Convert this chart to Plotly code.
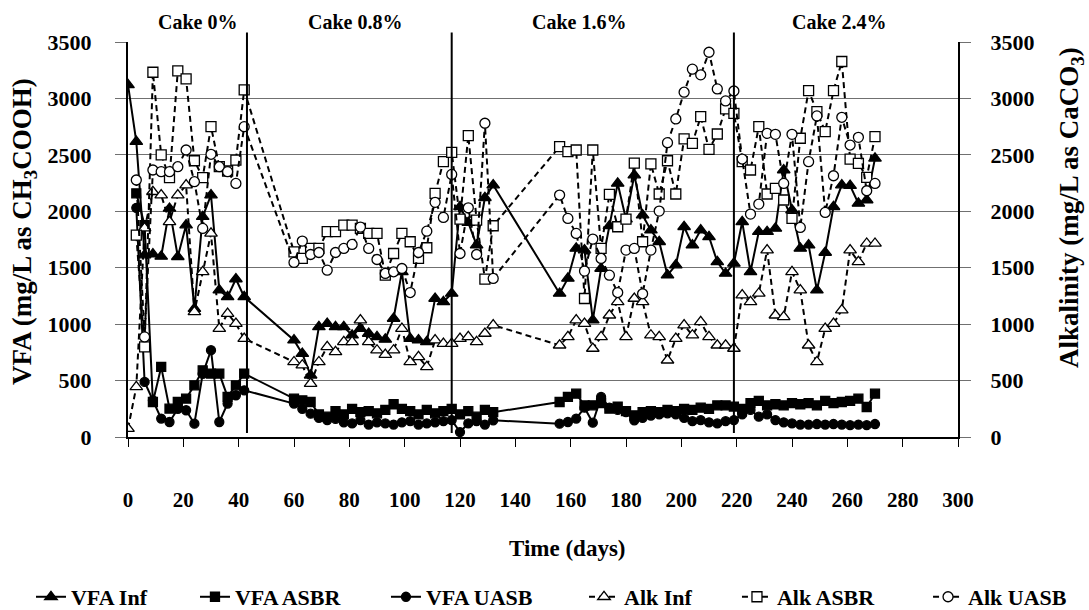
import plotly.graph_objects as go

# ---------------- data ----------------
days = [0, 3, 6, 9, 12, 15, 18, 21, 24, 27, 30, 33, 36, 39, 42,
        60, 63, 66, 69, 72, 75, 78, 81, 84, 87, 90, 93, 96, 99, 102, 105, 108, 111, 114, 117,
        120, 123, 126, 129, 132,
        156, 159, 162, 165, 168, 171, 174, 177, 180, 183, 186, 189, 192, 195, 198, 201, 204,
        207, 210, 213, 216, 219,
        222, 225, 228, 231, 234, 237, 240, 243, 246, 249, 252, 255, 258, 261, 264, 267, 270]

vfa_inf = [3120, 2617, 1612, 1620, 1600, 2025, 1597, 1878, 1138, 1952, 2144, 1301, 1242, 1400, 1242,
           858, 739, 547, 976, 1005, 976, 976, 902, 961, 917, 887, 865, 1050, 1464, 872, 858, 843, 1227, 1198, 1272,
           2040, 1900, 1700, 2120, 2232,
           1272, 1405, 1671, 1656, 1035, 1493, 1870, 2247, 1930, 2321, 1966, 1833, 1730, 1434, 1523, 1863, 1700,
           1833, 1774, 1552, 1449, 1538,
           1907, 1464, 1819, 1819, 1848, 2366, 2011, 1671, 1700, 1301, 1635, 2040, 2232, 2227, 2070, 2100, 2469]

vfa_asbr = [None, 2159, 1878, 310, 621, 251, 310, 340, 458, 591, 562, 562, 355, 458, 562,
            340, 325, 310, 200, 180, 230, 200, 250, 220, 230, 210, 240, 290, 250, 230, 200, 240, 210, 230, 250,
            200, 230, 180, 240, 220,
            310, 355, 384, 280, 281, 300, 251, 270, 230, 192, 220, 230, 220, 240, 230, 250, 240,
            260, 250, 280, 280, 270,
            250, 300, 320, 280, 290, 280, 300, 290, 300, 280, 320, 300, 310, 320, 340, 266, 384]

vfa_uasb = [None, 2031, 488, 325, 163, 133, 250, 237, 118, 560, 769, 133, 296, 370, 414,
            296, 250, 207, 170, 150, 160, 130, 120, 150, 110, 130, 120, 110, 130, 140, 110, 120, 130, 140, 150,
            44, 120, 140, 110, 148,
            118, 133, 163, 260, 127, 355, 260, 240, 220, 148, 170, 190, 200, 210, 200, 170, 140,
            150, 130, 120, 140, 150,
            200, 240, 180, 200, 150, 130, 120, 110, 110, 115, 110, 115, 110, 105, 110, 105, 115]

alk_inf = [74, 444, 1850, 2173, 2144, 1907, 2144, 2232, 1109, 1464, 1804, 961, 1094, 1005, 872,
           665, 636, 473, 665, 798, 754, 843, 843, 1035, 843, 769, 730, 769, 961, 665, 710, 621, 858, 828, 828,
           872, 887, 843, 917, 991,
           813, 887, 1035, 1005, 784, 887, 1079, 1198, 887, 1227, 1198, 902, 887, 680, 872, 991, 902,
           1020, 887, 813, 813, 784,
           1257, 1198, 1272, 1656, 1079, 1065, 1464, 1301, 813, 665, 961, 1005, 1124, 1656, 1552, 1715, 1715]

alk_asbr = [None, 1789, 798, 3232, 2499, 2298, 3244, 3173, 2448, 2298, 2750, 2395, 2357, 2454, 3075,
            1641, 1582, 1671, 1671, 1819, 1819, 1878, 1878, 1848, 1804, 1804, 1434, 1626, 1804, 1730, 1582, 1677,
            2159, 2440, 2522,
            1930, 2670, 1922, 1399, 1872,
            2573, 2528, 2543, 1227, 2543, 1671, 2150, 1863, 1930, 2426, 1730, 2420, 2153, 2448, 2153, 2641, 2602,
            2839, 2549, 2685, 2907, 2868,
            2440, 2366, 2750, 2153, 2203, 2100, 1937, 2647, 3069, 2883, 2706, 3069, 3327, 2463, 2425, 2300, 2661]

alk_uasb = [None, 2277, 887, 2366, 2351, 2351, 2395, 2543, 2262, 1848, 2505, 2395, 2351, 2247, 2750,
            1547, 1736, 1617, 1635, 1478, 1635, 1671, 1706, 1860, 1671, 1573, 1449, 1464, 1493, 1280, 1635, 1824,
            2079, 1946, 2327,
            1626, 2031, 1617, 2780, 1405,
            2144, 1937, 1804, 1470, 1754, 1582, 1434, 1280, 1656, 1671, 1269, 1656, 2002, 2608, 2818, 3055, 3259,
            3209, 3409, 3084, 2978, 3066,
            2463, 1975, 2064, 2691, 2682, 2247, 2682, 1857, 2440, 2845, 1990, 2315, 2833, 2587, 2655, 2182, 2247]

phase_days = [43, 117, 219]
phase_label_days = [25, 82, 163, 257]
phase_labels = ["Cake 0%", "Cake 0.8%", "Cake 1.6%", "Cake 2.4%"]

x_ticks = list(range(0, 301, 20))
y_ticks = list(range(0, 3501, 500))

# ---------------- figure ----------------
SERIF = "Liberation Serif, Times New Roman, serif"
BLACK = "#000000"
DASH = "6px,4px"

fig = go.Figure()

legend_ids = ["legend", "legend2", "legend3", "legend4", "legend5", "legend6"]
legend_x = [-0.1169, 0.0807, 0.3108, 0.5494, 0.7337, 0.9639]

def add(idx, name, y, symbol, filled, dash, axis, size):
    fig.add_trace(go.Scatter(
        x=days, y=y, name=name, mode="lines+markers", yaxis=axis,
        legend=legend_ids[idx],
        line=dict(color=BLACK, width=2, dash=dash),
        marker=dict(symbol=symbol, size=size,
                    color=BLACK if filled else "white",
                    line=dict(color=BLACK, width=1.3)),
        connectgaps=True,
    ))

add(0, "VFA Inf", vfa_inf, "triangle-up", True, "solid", "y", 11)
add(1, "VFA ASBR", vfa_asbr, "square", True, "solid", "y", 9)
add(2, "VFA UASB", vfa_uasb, "circle", True, "solid", "y", 9)
add(3, "Alk Inf", alk_inf, "triangle-up", False, DASH, "y2", 11)
add(4, "Alk ASBR", alk_asbr, "square", False, DASH, "y2", 10)
add(5, "Alk UASB", alk_uasb, "circle", False, DASH, "y2", 10)

xtickfont = dict(family=SERIF, size=21, color=BLACK, weight="bold")
ytickfont = dict(family=SERIF, size=22, color=BLACK, weight="bold")
legfont = dict(family=SERIF, size=22, color=BLACK, weight="bold")

shapes = [dict(type="line", xref="x", yref="paper", x0=d, x1=d, y0=0.01, y1=1.024,
               line=dict(color=BLACK, width=2), layer="above") for d in phase_days]

annotations = [dict(x=d, y=1.05, xref="x", yref="paper", text=t, showarrow=False,
                    font=dict(family=SERIF, size=20, color=BLACK, weight="bold"),
                    xanchor="center", yanchor="middle")
               for d, t in zip(phase_label_days, phase_labels)]
annotations += [
    dict(x=0.530, y=-0.2835, xref="paper", yref="paper", text="Time (days)", showarrow=False,
         font=dict(family=SERIF, size=23, color=BLACK, weight="bold"), xanchor="center", yanchor="middle"),
    dict(x=-0.1253, y=0.519, xref="paper", yref="paper", text="VFA (mg/L as CH<sub>3</sub>COOH)",
         showarrow=False, textangle=-90,
         font=dict(family=SERIF, size=27, color=BLACK, weight="bold"), xanchor="center", yanchor="middle"),
    dict(x=1.1361, y=0.582, xref="paper", yref="paper", text="Alkalinity (mg/L as CaCO<sub>3</sub>)",
         showarrow=False, textangle=-90,
         font=dict(family=SERIF, size=27, color=BLACK, weight="bold"), xanchor="center", yanchor="middle"),
]

layout_legends = {}
for lid, lx in zip(legend_ids, legend_x):
    layout_legends[lid] = dict(orientation="h", x=lx, xanchor="left", y=-0.405, yanchor="middle",
                               font=legfont, bgcolor="rgba(0,0,0,0)", itemwidth=30)

fig.update_layout(
    width=1089, height=610,
    margin=dict(l=128, r=131, t=42, b=173, autoexpand=False),
    paper_bgcolor="white", plot_bgcolor="white",
    showlegend=True,
    xaxis=dict(range=[0, 300], tickvals=x_ticks, ticktext=[str(v) for v in x_ticks],
               showgrid=False, zeroline=False, showline=True, linecolor=BLACK, linewidth=2,
               ticks="outside", ticklen=8, tickcolor=BLACK, tickwidth=1,
               tickfont=xtickfont, ticklabelstandoff=35),
    yaxis=dict(range=[0, 3500], tickvals=y_ticks, showgrid=True, gridcolor="#707070", gridwidth=1,
               zeroline=False, showline=True, linecolor=BLACK, linewidth=2,
               ticks="outside", ticklen=11, tickcolor="#707070", tickwidth=1,
               tickfont=ytickfont, ticklabelstandoff=19),
    yaxis2=dict(range=[0, 3500], tickvals=y_ticks, overlaying="y", side="right", showgrid=False,
                zeroline=False, showline=True, linecolor=BLACK, linewidth=2,
                ticks="outside", ticklen=11, tickcolor="#707070", tickwidth=1,
                tickfont=ytickfont, ticklabelstandoff=15),
    shapes=shapes,
    annotations=annotations,
    **layout_legends,
)

fig.write_html("out.html")
